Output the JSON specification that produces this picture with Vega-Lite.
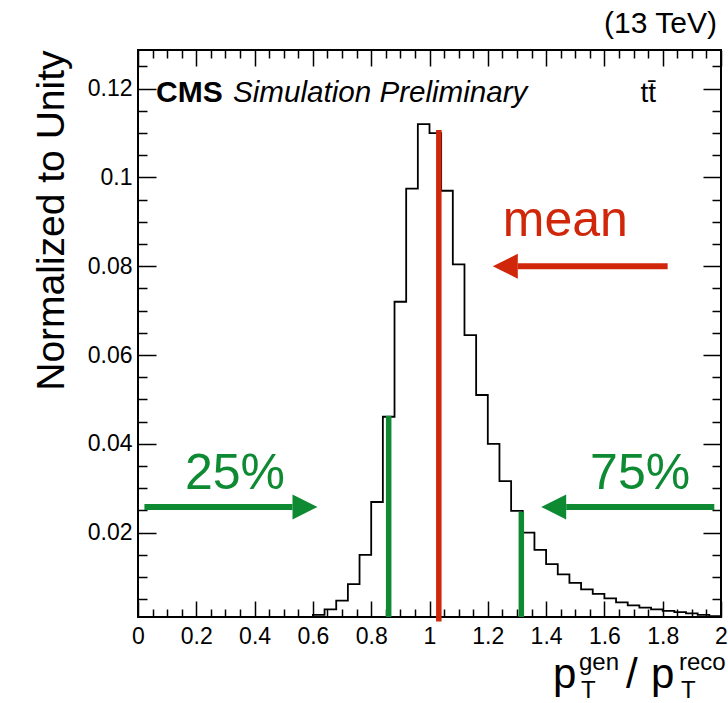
{
  "$schema": "https://vega.github.io/schema/vega-lite/v6.json",
  "autosize": "none",
  "width": 583,
  "height": 567,
  "padding": {"left": 138, "top": 50, "right": 7, "bottom": 86},
  "config": {
    "view": {"stroke": "black", "strokeWidth": 2},
    "font": "Liberation Sans",
    "axis": {"grid": false, "domain": false, "tickColor": "black", "tickWidth": 1.5, "labelColor": "black", "labelFont": "Liberation Sans", "labelFontSize": 23, "labelFlush": false, "labelOverlap": false, "labelBound": false, "titleFont": "Liberation Sans", "titleColor": "black", "titleFontWeight": "normal"}
  },
  "datasets": {
    "hist": [
      {"x": 0.00, "y": 0}, {"x": 0.04, "y": 0}, {"x": 0.08, "y": 0}, {"x": 0.12, "y": 0},
      {"x": 0.16, "y": 0}, {"x": 0.20, "y": 0}, {"x": 0.24, "y": 0}, {"x": 0.28, "y": 0},
      {"x": 0.32, "y": 0}, {"x": 0.36, "y": 0}, {"x": 0.40, "y": 0}, {"x": 0.44, "y": 0},
      {"x": 0.48, "y": 0}, {"x": 0.52, "y": 0}, {"x": 0.56, "y": 0},
      {"x": 0.60, "y": 0.0015}, {"x": 0.64, "y": 0.0027}, {"x": 0.68, "y": 0.0047},
      {"x": 0.72, "y": 0.0084}, {"x": 0.76, "y": 0.0150}, {"x": 0.80, "y": 0.0269},
      {"x": 0.84, "y": 0.0461}, {"x": 0.88, "y": 0.0720}, {"x": 0.92, "y": 0.0975},
      {"x": 0.96, "y": 0.1120}, {"x": 1.00, "y": 0.1100}, {"x": 1.04, "y": 0.0970},
      {"x": 1.08, "y": 0.0804}, {"x": 1.12, "y": 0.0645}, {"x": 1.16, "y": 0.0510},
      {"x": 1.20, "y": 0.0400}, {"x": 1.24, "y": 0.0316}, {"x": 1.28, "y": 0.0249},
      {"x": 1.32, "y": 0.0200}, {"x": 1.36, "y": 0.0161}, {"x": 1.40, "y": 0.0129},
      {"x": 1.44, "y": 0.0106}, {"x": 1.48, "y": 0.0087}, {"x": 1.52, "y": 0.0072},
      {"x": 1.56, "y": 0.0062}, {"x": 1.60, "y": 0.0052}, {"x": 1.64, "y": 0.0043},
      {"x": 1.68, "y": 0.0036}, {"x": 1.72, "y": 0.0031}, {"x": 1.76, "y": 0.0027},
      {"x": 1.80, "y": 0.0024}, {"x": 1.84, "y": 0.0021}, {"x": 1.88, "y": 0.0018},
      {"x": 1.92, "y": 0.0015}, {"x": 1.96, "y": 0.0012}, {"x": 2.00, "y": 0.0012}
    ],
    "lines": [
      {"name": "mean", "x": 1.032, "top": 0.1107, "bottom": 0.0},
      {"name": "q25", "x": 0.860, "top": 0.0463, "bottom": 0.001},
      {"name": "q75", "x": 1.315, "top": 0.0247, "bottom": 0.001}
    ],
    "arrows": [
      {"name": "q25", "x1": 0.022, "x2": 0.530, "y": 0.0258, "head": 0.573, "dir": "right"},
      {"name": "q75", "x1": 1.469, "x2": 1.977, "y": 0.0258, "head": 1.426, "dir": "left"},
      {"name": "mean", "x1": 1.303, "x2": 1.817, "y": 0.0800, "head": 1.260, "dir": "left"}
    ],
    "bigLabels": [
      {"name": "mean", "t": "mean", "x": 1.2515, "y": 0.0867},
      {"name": "q25", "t": "25%", "x": 0.161, "y": 0.0298},
      {"name": "q75", "t": "75%", "x": 1.551, "y": 0.0298}
    ],
    "titleBig": [
      {"t": "p", "x": 1.4237, "y": -0.0150},
      {"t": "/", "x": 1.674, "y": -0.0150},
      {"t": "p", "x": 1.7599, "y": -0.0150}
    ],
    "titleSmall": [
      {"t": "gen", "x": 1.5129, "y": -0.01094},
      {"t": "T", "x": 1.5197, "y": -0.01724},
      {"t": "reco", "x": 1.8559, "y": -0.01094},
      {"t": "T", "x": 1.8628, "y": -0.01724}
    ]
  },
  "resolve": {"axis": {"x": "independent", "y": "independent"}},
  "layer": [
    {
      "data": {"name": "hist"},
      "mark": {"type": "line", "interpolate": "step-after", "color": "black", "strokeWidth": 1.8, "clip": true},
      "encoding": {
        "x": {"field": "x", "type": "quantitative", "scale": {"domain": [0, 2], "nice": false, "zero": false},
          "axis": {"orient": "bottom", "values": [0, 0.2, 0.4, 0.6, 0.8, 1, 1.2, 1.4, 1.6, 1.8, 2], "format": "~g", "tickSize": -16, "labelPadding": 24, "title": null}},
        "y": {"field": "y", "type": "quantitative", "scale": {"domain": [0.001, 0.1287], "nice": false, "zero": false},
          "axis": {"orient": "left", "values": [0.02, 0.04, 0.06, 0.08, 0.1, 0.12], "format": "~g", "tickSize": -18, "labelPadding": 24, "title": "Normalized to Unity", "titleFontSize": 39, "titleAnchor": "end", "titlePadding": 16}}
      }
    },
    {
      "data": {"name": "lines"},
      "mark": {"type": "rule", "strokeWidth": 5.5},
      "encoding": {
        "x": {"field": "x", "type": "quantitative", "scale": {"domain": [0, 2], "nice": false, "zero": false},
          "axis": {"orient": "bottom", "values": [0.05, 0.1, 0.15, 0.25, 0.3, 0.35, 0.45, 0.5, 0.55, 0.65, 0.7, 0.75, 0.85, 0.9, 0.95, 1.05, 1.1, 1.15, 1.25, 1.3, 1.35, 1.45, 1.5, 1.55, 1.65, 1.7, 1.75, 1.85, 1.9, 1.95], "labels": false, "tickSize": -8, "title": null}},
        "y": {"field": "top", "type": "quantitative", "scale": {"domain": [0.001, 0.1287], "nice": false, "zero": false},
          "axis": {"orient": "left", "values": [0.005, 0.01, 0.015, 0.025, 0.03, 0.035, 0.045, 0.05, 0.055, 0.065, 0.07, 0.075, 0.085, 0.09, 0.095, 0.105, 0.11, 0.115, 0.125], "labels": false, "tickSize": -9, "title": null}},
        "y2": {"field": "bottom"},
        "color": {"field": "name", "type": "nominal", "scale": {"domain": ["mean", "q25", "q75"], "range": ["#d0260a", "#0e8a33", "#0e8a33"]}, "legend": null}
      }
    },
    {
      "data": {"name": "arrows"},
      "mark": {"type": "rule", "strokeWidth": 6},
      "encoding": {
        "x": {"field": "x1", "type": "quantitative", "scale": {"domain": [0, 2], "nice": false, "zero": false},
          "axis": {"orient": "top", "values": [0, 0.2, 0.4, 0.6, 0.8, 1, 1.2, 1.4, 1.6, 1.8, 2], "labels": false, "tickSize": -16, "title": null}},
        "x2": {"field": "x2"},
        "y": {"field": "y", "type": "quantitative", "scale": {"domain": [0.001, 0.1287], "nice": false, "zero": false},
          "axis": {"orient": "right", "values": [0.02, 0.04, 0.06, 0.08, 0.1, 0.12], "labels": false, "tickSize": -18, "title": null}},
        "color": {"field": "name", "type": "nominal", "scale": {"domain": ["mean", "q25", "q75"], "range": ["#d0260a", "#0e8a33", "#0e8a33"]}, "legend": null}
      }
    },
    {
      "data": {"name": "arrows"},
      "mark": {"type": "point", "filled": true, "size": 625, "opacity": 1},
      "encoding": {
        "x": {"field": "head", "type": "quantitative", "scale": {"domain": [0, 2], "nice": false, "zero": false},
          "axis": {"orient": "top", "values": [0.05, 0.1, 0.15, 0.25, 0.3, 0.35, 0.45, 0.5, 0.55, 0.65, 0.7, 0.75, 0.85, 0.9, 0.95, 1.05, 1.1, 1.15, 1.25, 1.3, 1.35, 1.45, 1.5, 1.55, 1.65, 1.7, 1.75, 1.85, 1.9, 1.95], "labels": false, "tickSize": -8, "title": null}},
        "y": {"field": "y", "type": "quantitative", "scale": {"domain": [0.001, 0.1287], "nice": false, "zero": false},
          "axis": {"orient": "right", "values": [0.005, 0.01, 0.015, 0.025, 0.03, 0.035, 0.045, 0.05, 0.055, 0.065, 0.07, 0.075, 0.085, 0.09, 0.095, 0.105, 0.11, 0.115, 0.125], "labels": false, "tickSize": -9, "title": null}},
        "shape": {"field": "dir", "type": "nominal", "scale": {"domain": ["right", "left"], "range": ["M-1,-1L1,0L-1,1Z", "M1,-1L-1,0L1,1Z"]}, "legend": null},
        "color": {"field": "name", "type": "nominal", "scale": {"domain": ["mean", "q25", "q75"], "range": ["#d0260a", "#0e8a33", "#0e8a33"]}, "legend": null}
      }
    },
    {
      "data": {"name": "bigLabels"},
      "mark": {"type": "text", "align": "left", "baseline": "alphabetic", "fontSize": 50, "font": "Liberation Sans"},
      "encoding": {
        "x": {"field": "x", "type": "quantitative", "scale": {"domain": [0, 2], "nice": false, "zero": false}, "axis": null},
        "y": {"field": "y", "type": "quantitative", "scale": {"domain": [0.001, 0.1287], "nice": false, "zero": false}, "axis": null},
        "text": {"field": "t"},
        "color": {"field": "name", "type": "nominal", "scale": {"domain": ["mean", "q25", "q75"], "range": ["#d0260a", "#0e8a33", "#0e8a33"]}, "legend": null}
      }
    },
    {
      "data": {"values": [{"t": "CMS", "x": 0.0617, "y": 0.117}]},
      "mark": {"type": "text", "align": "left", "baseline": "alphabetic", "fontSize": 30, "fontWeight": "bold", "font": "Liberation Sans", "color": "black"},
      "encoding": {
        "x": {"field": "x", "type": "quantitative", "scale": {"domain": [0, 2], "nice": false, "zero": false}, "axis": null},
        "y": {"field": "y", "type": "quantitative", "scale": {"domain": [0.001, 0.1287], "nice": false, "zero": false}, "axis": null},
        "text": {"field": "t"}
      }
    },
    {
      "data": {"values": [{"t": "Simulation Preliminary", "x": 0.3259, "y": 0.117}]},
      "mark": {"type": "text", "align": "left", "baseline": "alphabetic", "fontSize": 29.6, "fontStyle": "italic", "font": "Liberation Sans", "color": "black"},
      "encoding": {
        "x": {"field": "x", "type": "quantitative", "scale": {"domain": [0, 2], "nice": false, "zero": false}, "axis": null},
        "y": {"field": "y", "type": "quantitative", "scale": {"domain": [0.001, 0.1287], "nice": false, "zero": false}, "axis": null},
        "text": {"field": "t"}
      }
    },
    {
      "data": {"values": [{"t": "tt\u0304", "x": 1.777, "y": 0.117}]},
      "mark": {"type": "text", "align": "right", "baseline": "alphabetic", "fontSize": 28, "font": "Liberation Sans", "color": "black"},
      "encoding": {
        "x": {"field": "x", "type": "quantitative", "scale": {"domain": [0, 2], "nice": false, "zero": false}, "axis": null},
        "y": {"field": "y", "type": "quantitative", "scale": {"domain": [0.001, 0.1287], "nice": false, "zero": false}, "axis": null},
        "text": {"field": "t"}
      }
    },
    {
      "data": {"values": [{"t": "(13 TeV)", "x": 1.986, "y": 0.1325}]},
      "mark": {"type": "text", "align": "right", "baseline": "alphabetic", "fontSize": 30, "font": "Liberation Sans", "color": "black"},
      "encoding": {
        "x": {"field": "x", "type": "quantitative", "scale": {"domain": [0, 2], "nice": false, "zero": false}, "axis": null},
        "y": {"field": "y", "type": "quantitative", "scale": {"domain": [0.001, 0.1287], "nice": false, "zero": false}, "axis": null},
        "text": {"field": "t"}
      }
    },
    {
      "data": {"name": "titleBig"},
      "mark": {"type": "text", "align": "left", "baseline": "alphabetic", "fontSize": 42, "font": "Liberation Sans", "color": "black"},
      "encoding": {
        "x": {"field": "x", "type": "quantitative", "scale": {"domain": [0, 2], "nice": false, "zero": false}, "axis": null},
        "y": {"field": "y", "type": "quantitative", "scale": {"domain": [0.001, 0.1287], "nice": false, "zero": false}, "axis": null},
        "text": {"field": "t"}
      }
    },
    {
      "data": {"name": "titleSmall"},
      "mark": {"type": "text", "align": "left", "baseline": "alphabetic", "fontSize": 24, "font": "Liberation Sans", "color": "black"},
      "encoding": {
        "x": {"field": "x", "type": "quantitative", "scale": {"domain": [0, 2], "nice": false, "zero": false}, "axis": null},
        "y": {"field": "y", "type": "quantitative", "scale": {"domain": [0.001, 0.1287], "nice": false, "zero": false}, "axis": null},
        "text": {"field": "t"}
      }
    }
  ]
}
